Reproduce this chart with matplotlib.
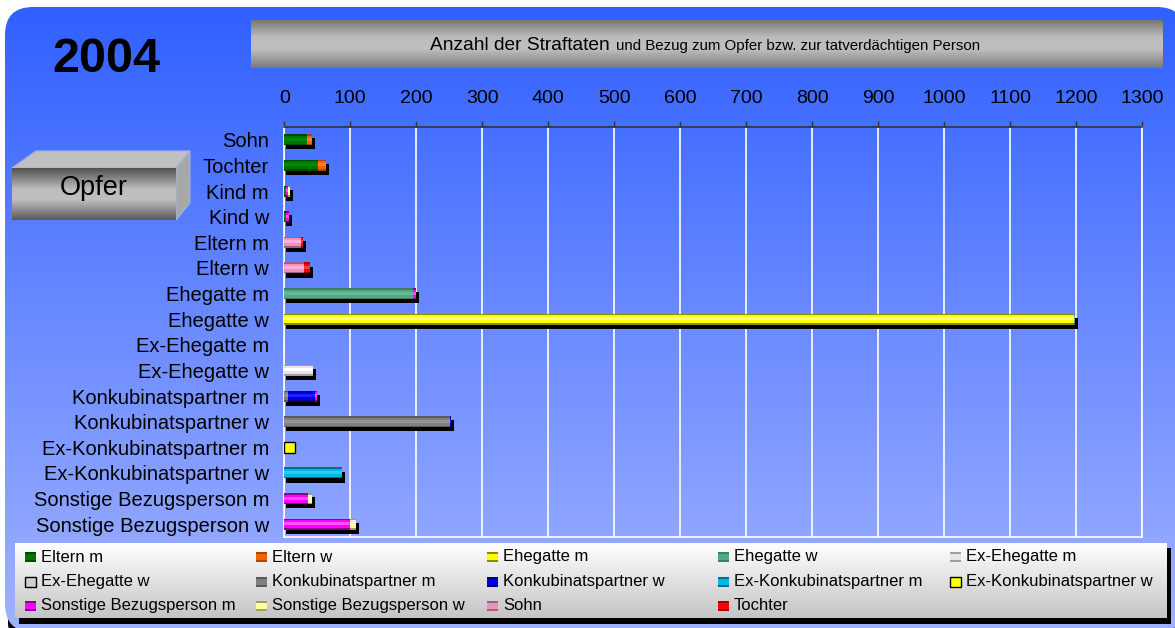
import numpy as np
import matplotlib
matplotlib.use("Agg")
import matplotlib.pyplot as plt
from matplotlib.patches import FancyBboxPatch, Rectangle, Polygon
from matplotlib.colors import to_rgb

plt.rcParams['font.family'] = ['Liberation Sans', 'DejaVu Sans']

# victims (rows)
categories = ["Sohn", "Tochter", "Kind m", "Kind w", "Eltern m", "Eltern w",
              "Ehegatte m", "Ehegatte w", "Ex-Ehegatte m", "Ex-Ehegatte w",
              "Konkubinatspartner m", "Konkubinatspartner w",
              "Ex-Konkubinatspartner m", "Ex-Konkubinatspartner w",
              "Sonstige Bezugsperson m", "Sonstige Bezugsperson w"]

# suspects (stacked series)
series_names = ["Eltern m", "Eltern w", "Ehegatte m", "Ehegatte w",
                "Ex-Ehegatte m", "Ex-Ehegatte w",
                "Konkubinatspartner m", "Konkubinatspartner w",
                "Ex-Konkubinatspartner m", "Ex-Konkubinatspartner w",
                "Sonstige Bezugsperson m", "Sonstige Bezugsperson w",
                "Sohn", "Tochter"]

eltern_m     = [35, 51, 3, 3, 0, 0, 0, 0, 0, 0, 0, 0, 0, 0, 0, 0]
eltern_w     = [7, 12, 0, 0, 0, 0, 0, 0, 0, 0, 0, 0, 0, 0, 0, 0]
ehegatte_m   = [0, 0, 0, 0, 0, 0, 0, 1196, 0, 0, 0, 0, 0, 0, 0, 0]
ehegatte_w   = [0, 0, 0, 0, 0, 0, 195, 2, 0, 0, 0, 0, 0, 0, 0, 0]
ex_ehe_m     = [0, 0, 0, 0, 0, 0, 0, 0, 0, 44, 0, 0, 0, 0, 0, 0]
ex_ehe_w     = [0, 0, 0, 0, 0, 0, 0, 0, 0, 0, 0, 0, 0, 0, 0, 0]
konk_m       = [0, 0, 0, 0, 0, 0, 0, 0, 0, 0, 5, 251, 0, 0, 0, 0]
konk_w       = [0, 0, 0, 0, 0, 0, 0, 0, 0, 0, 42, 2, 0, 0, 0, 0]
ex_konk_m    = [0, 0, 0, 0, 0, 0, 0, 0, 0, 0, 0, 0, 0, 87, 0, 0]
ex_konk_w    = [0, 0, 0, 0, 0, 0, 0, 0, 0, 0, 0, 0, 16, 0, 0, 0]
sonstige_m   = [0, 0, 3, 4, 0, 0, 4, 0, 0, 0, 2, 0, 0, 0, 36, 99]
sonstige_w   = [0, 0, 3, 0, 0, 0, 0, 0, 0, 0, 0, 0, 0, 0, 6, 9]
sohn         = [0, 0, 0, 0, 25, 30, 0, 0, 0, 0, 0, 0, 0, 0, 0, 0]
tochter      = [0, 0, 0, 0, 3, 9, 0, 0, 0, 0, 0, 0, 0, 0, 0, 0]

series_values = [eltern_m, eltern_w, ehegatte_m, ehegatte_w, ex_ehe_m, ex_ehe_w,
                 konk_m, konk_w, ex_konk_m, ex_konk_w, sonstige_m, sonstige_w,
                 sohn, tochter]

ticks = list(range(0, 1301, 100))

# base, dark edge, highlight, bordered
styles = {
    "Eltern m": ("#007400", "#004a00", "#008c00", False),
    "Eltern w": ("#f06400", "#b04400", "#ff8020", False),
    "Ehegatte m": ("#ffff00", "#8c8c00", "#ffff90", False),
    "Ehegatte w": ("#52a882", "#3a8060", "#64b894", False),
    "Ex-Ehegatte m": ("#e6e6e6", "#a0a0a0", "#ffffff", False),
    "Ex-Ehegatte w": ("#d0d0d0", "#909090", "#f0f0f0", True),
    "Konkubinatspartner m": ("#808080", "#5a5a5a", "#949494", False),
    "Konkubinatspartner w": ("#0000e0", "#000080", "#2020ff", False),
    "Ex-Konkubinatspartner m": ("#00b8e6", "#007090", "#30c8f0", False),
    "Ex-Konkubinatspartner w": ("#ffff00", "#ffff00", "#ffff00", True),
    "Sonstige Bezugsperson m": ("#ff00ff", "#900090", "#ff50ff", False),
    "Sonstige Bezugsperson w": ("#ffffa0", "#a0a060", "#ffffd0", False),
    "Sohn": ("#f090c0", "#a06080", "#ffb0d4", False),
    "Tochter": ("#ff0000", "#a00000", "#ff3a3a", False),
}

W, H = 1175, 628
fig = plt.figure(figsize=(W / 100, H / 100), dpi=100, facecolor="white")

bg = fig.add_axes([0, 0, 1, 1])
bg.set_xlim(0, W)
bg.set_ylim(H, 0)
bg.axis("off")


def vgrad(ax, x0, x1, y0, y1, stops, clip=None, z=1):
    t = np.linspace(0, 1, 200)
    pos = [s[0] for s in stops]
    cols = np.array([to_rgb(s[1]) for s in stops])
    img = np.stack([np.interp(t, pos, cols[:, k]) for k in range(3)], axis=-1)
    img = img.reshape(-1, 1, 3)
    im = ax.imshow(img, extent=[x0, x1, y1, y0], origin="upper", aspect="auto",
                   interpolation="bilinear", zorder=z)
    if clip is not None:
        im.set_clip_path(clip)
    return im


# blue rounded background with shadow
shadow_bg = FancyBboxPatch((8, 10), 1180, 640, boxstyle="round,pad=0,rounding_size=28",
                           fc="black", ec="none", zorder=0.5)
bg.add_patch(shadow_bg)
frame = FancyBboxPatch((5, 7), 1180, 625, boxstyle="round,pad=0,rounding_size=28",
                       fc="none", ec="none")
bg.add_patch(frame)
vgrad(bg, 5, 1185, 7, 632, [(0, "#3060ff"), (0.5, "#6a8aff"), (1, "#a0b2ff")], clip=frame)

# title box
vgrad(bg, 251, 1163, 20, 68, [(0, "#767676"), (0.35, "#bcbcbc"), (0.6, "#c0c0c0"), (1, "#7a7a7a")], z=2)
bg.text(430, 50, "Anzahl der Straftaten", fontsize=13.8, va="baseline", ha="left", zorder=3)
bg.text(616, 50, "und Bezug zum Opfer bzw. zur tatverdächtigen Person", fontsize=10.8,
        va="baseline", ha="left", zorder=3)

bg.text(106, 59, "2004", fontsize=35, fontweight="bold", ha="center", va="center", zorder=3)

# Opfer box
bg.add_patch(Polygon([(12, 168), (36, 151), (190, 151), (176, 168)], closed=True,
                     fc="#c0c0c0", ec="#9fb4e0", lw=0.8, zorder=2))
bg.add_patch(Polygon([(176, 168), (190, 151), (190, 203), (176, 220)], closed=True,
                     fc="#a8a8a8", ec="#9fb4e0", lw=0.8, zorder=2))
vgrad(bg, 12, 176, 168, 220, [(0, "#505050"), (0.4, "#bcbcbc"), (0.6, "#c0c0c0"), (1, "#5a5a5a")], z=2)
bg.text(94, 188, "Opfer", fontsize=19.5, ha="center", va="center", zorder=3)

# legend box
bg.add_patch(Rectangle((18.5, 548), 1152.5, 76, fc="black", ec="none", zorder=2))
vgrad(bg, 14.5, 1166.5, 543, 618, [(0, "#ffffff"), (1, "#c4c4c4")], z=2.5)
leg_x = [25, 256, 487, 718, 950]
leg_y = [557, 581.5, 605.5]
for i, name in enumerate(series_names):
    r, c = divmod(i, 5)
    base, dark, light, bordered = styles[name]
    mx, my = leg_x[c], leg_y[r]
    if bordered:
        bg.add_patch(Rectangle((mx, my - 5), 11, 10, fc=base, ec="black", lw=1, zorder=3))
    else:
        bg.add_patch(Rectangle((mx, my - 5), 11, 10, fc=dark, ec="none", zorder=3))
        bg.add_patch(Rectangle((mx, my - 3), 11, 6, fc=base, ec="none", zorder=3.1))
    bg.text(mx + 16, my, name, fontsize=12, va="center", ha="left", zorder=3)

# main chart
ax = fig.add_axes([284.3 / W, 1 - 537 / H, 858 / W, 410 / H])
ax.set_facecolor("none")
ax.set_xlim(0, 1300)
ax.set_ylim(len(categories) - 0.5, -0.5)

y = np.arange(len(categories))
h = 0.43

totals = np.zeros(len(categories))
for name, vals in zip(series_names, series_values):
    if not styles[name][3]:
        totals += np.array(vals, float)
m = totals > 0
ax.barh(y[m] + 0.16, totals[m] + 1.5, left=3, height=h, color="black", zorder=2)

left = np.zeros(len(categories))
for name, vals in zip(series_names, series_values):
    vals = np.array(vals, float)
    base, dark, light, bordered = styles[name]
    nz = vals > 0
    if nz.any():
        if bordered:
            ax.barh(y[nz], vals[nz], left=left[nz], height=h, color=base,
                    edgecolor="black", linewidth=1, zorder=3)
        else:
            ax.barh(y[nz], vals[nz], left=left[nz], height=h, color=dark, zorder=3)
            ax.barh(y[nz], vals[nz], left=left[nz], height=h * 0.72, color=base, zorder=3.1)
            ax.barh(y[nz] - 0.02, vals[nz], left=left[nz], height=h * 0.28, color=light, zorder=3.2)
    left += vals

ax.set_yticks(y)
ax.set_yticklabels(categories, fontsize=14.5)
ax.tick_params(axis="y", length=0, pad=11)

ax.set_xticks(ticks)
ax.xaxis.tick_top()
ax.tick_params(axis="x", direction="out", length=4.5, width=1, color="#333333",
               labelsize=14, pad=10, top=True, bottom=False)
ax.grid(axis="x", color="white", linewidth=1.2, zorder=1)
ax.set_axisbelow(True)

for s in ["left", "right", "bottom"]:
    ax.spines[s].set_color("white")
    ax.spines[s].set_linewidth(1.2)
ax.spines["top"].set_color("#333333")
ax.spines["top"].set_linewidth(1.2)

fig.savefig("out.png", dpi=100, facecolor="white")
